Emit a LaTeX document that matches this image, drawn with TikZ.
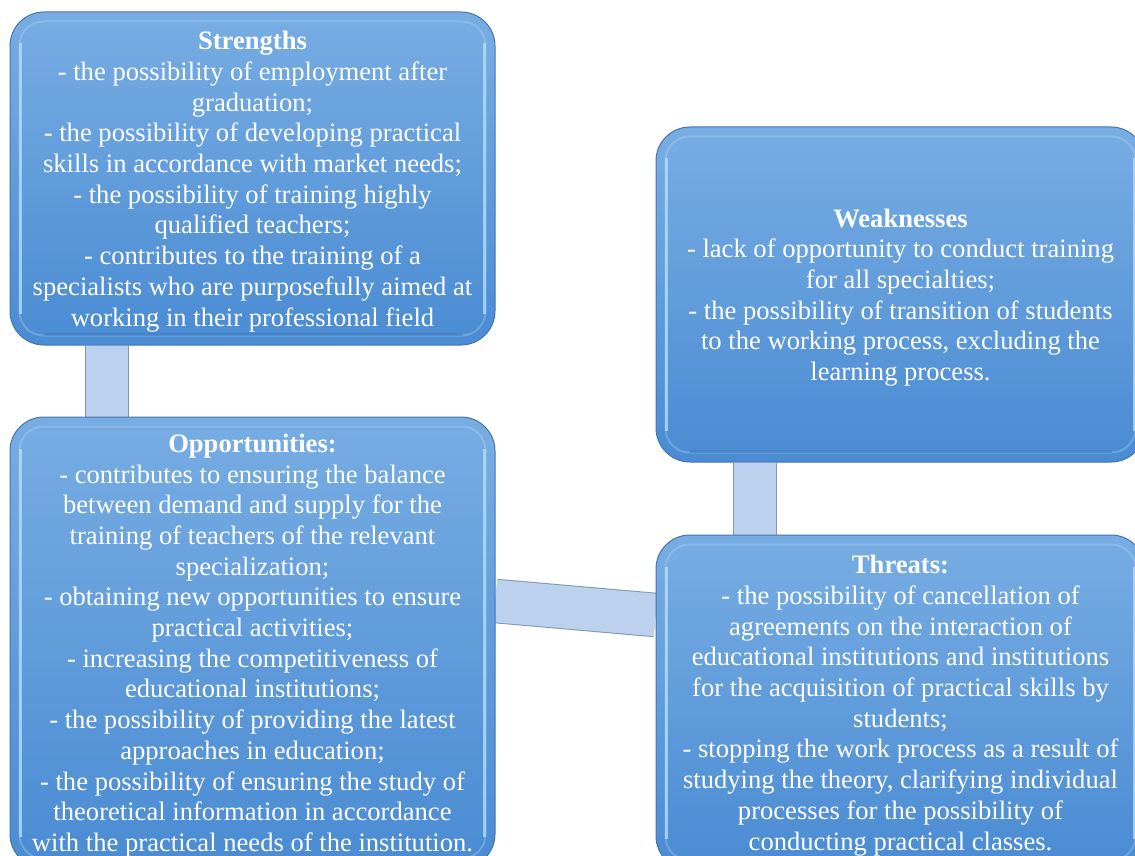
\documentclass[tikz,border=0pt]{standalone}
\usepackage{fontspec}
\setmainfont{Liberation Serif}
\usetikzlibrary{backgrounds,calc}
\definecolor{boxtop}{HTML}{78ADE3}
\definecolor{boxbot}{HTML}{4A8BD3}
\definecolor{boxedge}{HTML}{4475B0}
\definecolor{rimcol}{HTML}{B5E0FA}
\definecolor{shadecol}{HTML}{3E78BC}
\definecolor{bandfill}{HTML}{BCD1EE}
\definecolor{bandedge}{HTML}{8296B6}
\tikzset{
  swotbox/.style={rounded corners=34pt, draw=boxedge, line width=1pt,
    top color=boxtop, bottom color=boxbot, inner sep=0pt},
  swottext/.style={text=white, align=center,
    font=\fontsize{26.6}{30.7}\selectfont, inner sep=0pt},
  rim/.style={rounded corners=24pt, draw=rimcol, line width=2pt, opacity=0.3},
  rimside/.style={draw=rimcol, line width=2.5pt, opacity=0.75},
  rimbottom/.style={draw=shadecol, line width=2.5pt, opacity=0.5},
  bandout/.style={draw=bandedge, line width=44.5pt},
  bandin/.style={draw=bandfill, line width=42.5pt}
}
\begin{document}
\begin{tikzpicture}[x=1pt,y=1pt]
\useasboundingbox (0,0) rectangle (1135,-856);
\clip (0,0) rectangle (1135,-856);
\node[swotbox, minimum width=485pt, minimum height=333pt] (S) at (252.5,-178.5) {};
\node[swotbox, minimum width=485pt, minimum height=451pt] (O) at (252.5,-642.5) {};
\node[swotbox, minimum width=489pt, minimum height=335pt] (W) at (900.5,-294.5) {};
\node[swotbox, minimum width=489pt, minimum height=335pt] (T) at (900.5,-702.5) {};
\foreach \n in {S,O,W,T}{
  \draw[rim] ([shift={(10pt,-10pt)}]\n.north west) rectangle ([shift={(-10pt,10pt)}]\n.south east);
  \draw[rimside] ([shift={(11pt,-32pt)}]\n.north west) -- ([shift={(11pt,32pt)}]\n.south west);
  \draw[rimside] ([shift={(-11pt,-32pt)}]\n.north east) -- ([shift={(-11pt,32pt)}]\n.south east);
  \draw[rimbottom] ([shift={(34pt,11pt)}]\n.south west) -- ([shift={(-34pt,11pt)}]\n.south east);
}
\node[swottext] (St) at ([yshift=-3pt]S.center)
 {\textbf{Strengths}\\- the possibility of employment after\\graduation;\\- the possibility of developing practical\\skills in accordance with market needs;\\- the possibility of training highly\\qualified teachers;\\- contributes to the training of a\\specialists who are purposefully aimed at\\working in their professional field};
\node[swottext] (Ot) at ([yshift=-3pt]O.center)
 {\textbf{Opportunities:}\\- contributes to ensuring the balance\\between demand and supply for the\\training of teachers of the relevant\\specialization;\\- obtaining new opportunities to ensure\\practical activities;\\- increasing the competitiveness of\\educational institutions;\\- the possibility of providing the latest\\approaches in education;\\- the possibility of ensuring the study of\\theoretical information in accordance\\with the practical needs of the institution.};
\node[swottext] (Wt) at ([yshift=-3pt]W.center)
 {\textbf{Weaknesses}\\- lack of opportunity to conduct training\\for all specialties;\\- the possibility of transition of students\\to the working process, excluding the\\learning process.};
\node[swottext] (Tt) at ([yshift=-3pt]T.center)
 {\textbf{Threats:}\\- the possibility of cancellation of\\agreements on the interaction of\\educational institutions and institutions\\for the acquisition of practical skills by\\students;\\- stopping the work process as a result of\\studying the theory, clarifying individual\\processes for the possibility of\\conducting practical classes.};
\begin{pgfonlayer}{background}
  \fill[white] (0,0) rectangle (1135,-856);
  \draw[bandout] ([xshift=-145.5pt]S.south) -- ([xshift=-145.5pt]O.north);
  \draw[bandin] ([xshift=-145.5pt]S.south) -- ([xshift=-145.5pt]O.north);
  \draw[bandout] ([xshift=-145.5pt]W.south) -- ([xshift=-145.5pt]T.north);
  \draw[bandin] ([xshift=-145.5pt]W.south) -- ([xshift=-145.5pt]T.north);
  \draw[bandout] ([yshift=41.5pt]O.east) -- ([yshift=87.5pt]T.west);
  \draw[bandin] ([yshift=41.5pt]O.east) -- ([yshift=87.5pt]T.west);
\end{pgfonlayer}
\end{tikzpicture}
\end{document}
